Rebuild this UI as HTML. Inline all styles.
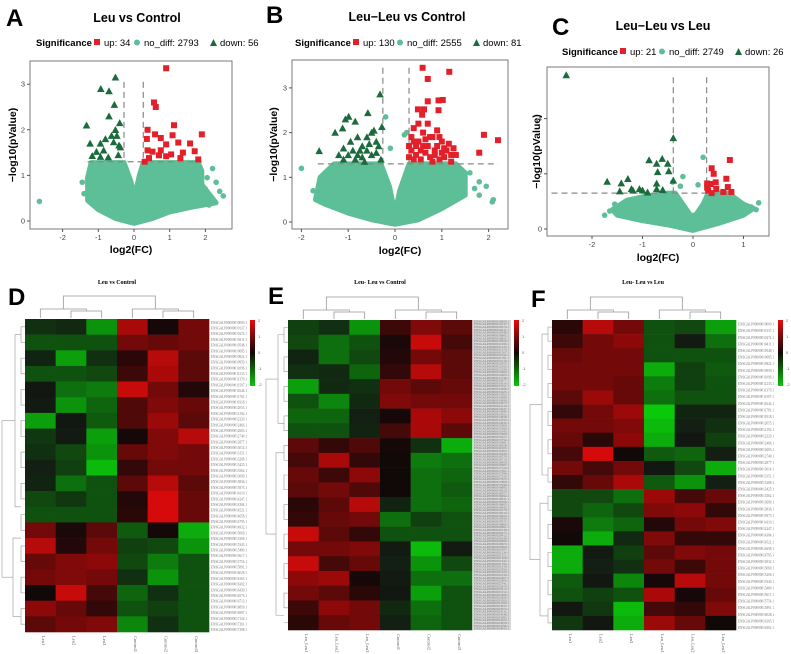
<!DOCTYPE html>
<html><head><meta charset="utf-8"><style>
html,body{margin:0;padding:0;background:#fff;}
svg{display:block;font-family:"Liberation Sans",sans-serif;}
</style></head><body>
<svg id="fig" width="791" height="654" viewBox="0 0 791 654"></svg>
<script>
// ---------- Volcano data (log2FC, -log10 p) ----------
const aUpX=[0.9,0.56,0.61,0.38,0.36,0.59,0.75,1.12,1.08,0.9,1.24,1.37,1.57,1.7,1.9,1.3,1.04,0.7,0.52,0.38,0.3,0.42,0.9,0.75,1.8];
const aUpY=[3.35,2.6,2.5,2.0,1.8,1.9,1.82,2.1,1.88,1.68,1.72,1.5,1.7,1.53,1.9,1.38,1.46,1.44,1.52,1.55,1.3,1.38,1.42,1.55,1.35];
const aDnX=[-1.33,-0.93,-0.7,-0.52,-0.55,-0.7,-1.23,-0.94,-0.8,-0.52,-0.4,-0.57,-0.42,-0.94,-0.72,-0.44,-1.17,-0.63,-0.48,-0.38,-1.05,-0.85];
const aDnY=[2.1,2.9,2.85,3.15,2.55,2.3,1.7,1.7,1.8,2.0,2.15,1.73,1.66,1.41,1.4,1.45,1.43,1.87,1.87,1.62,1.52,1.55];
const aCloudX=[-1.3,-1.3,-1.2,-0.28,-0.1,0.02,0.15,0.26,1.8,1.9,1.9,2.3,1.6,1.0,0.5,0,-0.5,-1.0,-1.3];
const aCloudY=[0.6,0.95,1.28,1.28,0.9,0.55,1.0,1.28,1.28,1.1,0.8,0.4,0.3,0.2,0.05,-0.05,0.05,0.25,0.45];
const aOutX=[-2.65,2.2,2.3,2.4,2.5,2.0,1.9,-1.3,-1.4,2.1,-1.2,-1.45,1.7,2.05];
const aOutY=[0.43,1.15,0.85,0.65,0.55,0.7,0.45,0.9,0.6,0.35,0.75,0.85,0.55,0.95];

const bUpX=[0.59,1.16,0.7,0.93,1.02,0.7,0.93,0.62,0.49,0.58,1.9,2.2,1.8,0.35,0.4,0.5,0.6,0.7,0.8,0.9,1.0,1.1,1.2,0.45,0.55,0.65,0.75,0.85,0.95,1.05,0.35,0.4,0.6,0.8,1.15,0.5,0.7,0.3,0.45,0.75,0.9,1.0,1.2,0.55,0.65,0.85,0.95,1.05,0.4,0.3,1.3,1.25];
const bUpY=[3.45,3.36,3.2,2.72,2.73,2.7,2.5,2.52,2.52,2.4,1.95,1.83,1.55,1.9,2.1,1.8,2.0,1.7,1.9,2.05,1.8,1.6,1.5,1.5,1.4,1.55,1.45,1.6,1.4,1.45,1.6,1.4,1.7,1.35,1.75,2.2,2.2,1.7,1.7,1.9,1.7,1.55,1.35,1.6,1.85,1.5,1.9,1.65,1.8,1.45,1.5,1.65];
const bDnX=[-0.32,-0.58,-0.99,-1.06,-0.85,-1.12,-1.28,-1.62,-0.28,-0.5,-0.6,-0.4,-0.7,-0.8,-0.9,-1.0,-1.1,-0.5,-0.6,-0.4,-0.7,-0.8,-0.35,-0.45,-1.1,-0.95,-0.55,-0.3,-0.65,-0.85,-1.2,-0.75];
const bDnY=[2.86,2.44,2.36,2.3,2.25,2.1,2.0,1.59,2.13,2.0,1.9,1.8,1.7,1.9,1.6,1.5,1.4,1.5,1.6,1.55,1.45,1.5,1.7,2.05,1.65,1.8,1.75,1.4,1.35,1.4,1.5,1.6];
const bCloudX=[-1.7,-1.6,-1.3,-0.3,-0.12,0,0.1,0.3,1.3,1.5,1.5,1.0,0.5,0,-0.5,-1.0,-1.5];
const bCloudY=[0.5,1.0,1.3,1.3,0.8,0.2,0.7,1.3,1.3,1.1,0.6,0.3,0.05,-0.05,0.05,0.2,0.4];
const bOutX=[-2,-1.6,-1.65,-1.5,1.8,1.95,2.1,1.8,1.6,-0.2,-0.1,0.2,0.25,-1.4,2.08,-1.3,-1.75,1.7];
const bOutY=[1.2,0.95,0.6,0.5,0.9,0.8,0.5,0.6,1.1,2.35,1.65,1.95,2.0,0.45,0.45,0.9,0.7,0.75];

const cUpX=[0.73,0.37,0.41,0.28,0.35,0.45,0.66,0.69,0.6,0.76,0.3,0.37,0.46,0.28];
const cUpY=[2.5,2.2,2.0,1.65,1.63,1.69,1.82,1.52,1.34,1.34,1.4,1.3,1.45,1.5];
const cDnX=[-2.51,-0.39,-0.87,-0.61,-0.72,-0.5,-0.48,-0.7,-0.39,-1.7,-1.29,-1.42,-0.72,-1.45,-1.22,-1.06,-0.9,-0.6,-0.72,-1.19,-1.0];
const cDnY=[5.58,3.3,2.5,2.55,2.37,2.37,2.1,2.07,1.76,1.72,1.82,1.66,1.65,1.37,1.45,1.45,1.33,1.42,1.45,1.4,1.4];
const cCloudX=[-1.6,-1.3,-0.9,-0.5,-0.35,-0.2,-0.05,0.05,0.2,0.3,0.7,1.0,1.2,1.0,0.5,0,-0.5,-1.0,-1.5];
const cCloudY=[0.7,1.05,1.2,1.3,1.3,0.9,0.5,0.5,0.9,1.3,1.3,0.9,0.75,0.5,0.2,-0.05,0.15,0.3,0.5];
const cOutX=[-1.75,-1.65,-1.55,1.15,1.3,1.25,0.2,-0.2,-0.4,0.1,-0.25,1.0];
const cOutY=[0.5,0.65,0.9,0.8,0.95,0.7,2.6,1.9,1.7,1.6,1.55,0.6];

const aXTicks=[-2,-1,0,1,2], aYTicks=[0,1,2,3];
const bXTicks=[-2,-1,0,1,2], bYTicks=[0,1,2,3];
const cXTicks=[-2,-1,0,1], cYTicks=[0,2,4];

// ---------- Heatmap data (z-scores) ----------
const dVals=[[-0.6,-0.5,-1.6,1.6,0.2,1.2],[-1,-1,-1,1.2,1.1,1.2],[-0.4,-1.7,-0.6,0.5,1.7,1],[-1,-1,-0.9,0.7,1.6,1],[-0.1,-1.3,-1.4,1.8,1.2,0.4],[-0.2,-1.6,-1.2,0.9,1.3,1.1],[-1.7,-0.1,-1.1,0.9,1.5,1],[-0.7,-0.2,-1.7,0.2,1.3,1.7],[-0.6,-0.9,-1.6,1.1,1.3,1.2],[-0.3,-0.8,-1.9,0.6,1.2,1.2],[-0.4,-1.3,-1,1,1.7,1],[-0.9,-0.7,-1,0.4,1.9,1.1],[-1,-1,-1,0.5,1.9,1.1],[1.2,0.3,1,-1.1,0.2,-1.8],[1.7,0.4,1.2,-0.8,-0.9,-1.6],[1.1,1.3,1.4,-0.9,-1.4,-1],[1.2,1.3,1.2,-0.6,-1.6,-1],[0.1,1.8,0.8,-1.2,-0.6,-1],[1.4,1.1,0.6,-1,-0.8,-1],[1,1.2,1.3,-1.5,-0.6,-1]];
const eVals=[[-0.8,-0.6,-1.6,0.7,1.3,1],[-0.9,-1.3,-1,0.3,1.8,0.8],[-0.4,-1.3,-0.9,0.4,1.2,1],[-0.6,-0.5,-1.2,0.6,1.7,1],[-1.7,-0.5,-0.6,1.2,1,1.1],[-1,-1.5,-0.5,1.3,1.2,1.2],[-1.2,-1.2,-0.3,0.2,1.6,1.4],[-1,-1,-0.4,0.8,1.6,1],[1,0.6,0.9,0.2,-0.6,-1.8],[0.8,1.6,0.6,0.1,-1.4,-1.3],[1.1,0.7,1.4,0.1,-1.3,-1.2],[1,1.2,0.9,0.1,-1.3,-1.1],[0.5,1,1.7,-0.4,-1.3,-1.2],[0.6,1.1,1.2,-1.3,-0.8,-1],[1.8,1,0.6,-1,-1,-1],[1.2,1.2,1.3,-0.2,-1.9,-0.2],[1.8,0.8,1.1,-0.3,-1.6,-0.9],[1.4,1.5,0.2,-0.2,-1.3,-1.3],[1.2,1,0.5,-0.1,-1.7,-1],[0.7,1.4,1.2,-0.5,-1.3,-1],[0.5,1.1,1.2,-0.3,-1.2,-1]];
const fVals=[[0.5,1.7,1.2,-1,-0.9,-1.7],[0.7,1.2,1.4,-1,-0.2,-1.3],[1.1,1.2,1.2,-1,-1,-1],[1.2,1.2,1.2,-1.8,-0.8,-1.1],[1.2,1.2,1.1,-1.4,-0.8,-1],[1,1.5,1.1,-1.3,-1,-1],[0.6,1.2,1.5,-2,-0.4,-0.4],[1.2,1.2,1.3,-1.9,-0.3,-0.6],[1.1,0.5,1.4,-1.8,-0.1,-0.8],[0.8,1.9,0.1,-1.1,-1.2,-0.3],[1.2,0.8,1.2,-0.1,-0.9,-1.8],[0.6,1.1,1.6,-1.1,-1.6,-0.3],[-0.9,-0.9,-1.3,1.5,0.8,1.1],[-0.9,-1.2,-0.9,1.3,1.4,0.6],[0.3,-1.4,-1.2,0.4,1.2,1.3],[0.1,-1.8,-0.5,1.3,0.6,0.6],[-1.8,-0.2,-0.8,1,1.3,1.2],[-1.8,-0.3,-0.6,1.2,0.7,1.2],[-1.1,-0.1,-1.5,0.2,1.7,1.2],[-1,-0.8,-1,1.6,0.2,1.1],[-0.1,-0.7,-1.9,0.8,0.6,1.3],[-0.7,-0.1,-1.8,1.5,1.1,0.1]];
const dCols=["Leu1","Leu2","Leu3","Control1","Control2","Control3"];
const eCols=["Leu_Leu1","Leu_Leu2","Leu_Leu3","Control1","Control2","Control3"];
const fCols=["Leu1","Leu2","Leu3","Leu_Leu1","Leu_Leu2","Leu_Leu3"];
const barTicks=["2","1","0","-1","-2"];

const NS="http://www.w3.org/2000/svg";
const svg=document.getElementById('fig');
function mk(tag,attrs,parent){const e=document.createElementNS(NS,tag);for(const k in attrs)e.setAttribute(k,attrs[k]);(parent||svg).appendChild(e);return e;}
function txt(s,attrs,parent){const e=mk('text',attrs,parent);e.textContent=s;return e;}

const RED="#e3202a",MINT="#5dbf97",DKG="#1c6b3c";

function volcano(p){
  const g=mk('g',{});
  
  
  const sx=v=>p.x0+v*p.kx, sy=v=>p.y0-v*p.ky;
  const lt=txt(p.letter,{x:p.lx,y:p.ly,'font-size':24,'font-weight':'bold'},g);
  
  const tt=txt(p.title,{x:p.tx,y:p.ty,'font-size':12.5,'font-weight':'bold','text-anchor':'middle'},g);
  
  const lg=mk('g',{},g);
  
  let x=p.legX;const ly=p.legY;
  txt('Significance',{x:x,y:ly,'font-size':9.5,'font-weight':'bold'},lg);x+=58;
  mk('rect',{x:x,y:ly-7,width:6,height:6,fill:RED},lg);x+=10;
  txt('up: '+p.nUp,{x:x,y:ly,'font-size':9.5},lg);x+=p.w1;
  mk('circle',{cx:x+3,cy:ly-3.5,r:3,fill:MINT},lg);x+=10;
  txt('no_diff: '+p.nNo,{x:x,y:ly,'font-size':9.5},lg);x+=p.w2;
  mk('path',{d:`M${x} ${ly} L${x+7} ${ly} L${x+3.5} ${ly-7}Z`,fill:DKG},lg);x+=10;
  txt('down: '+p.nDn,{x:x,y:ly,'font-size':9.5},lg);
  const fr=mk('rect',{x:p.bx,y:p.by,width:p.bw,height:p.bh,fill:'#fff',stroke:'#7a7a7a','stroke-width':1},g);
  
  const clip=mk('clipPath',{id:'clip'+p.letter},g);
  mk('rect',{x:p.bx,y:p.by,width:p.bw,height:p.bh},clip);
  const inner=mk('g',{'clip-path':`url(#clip${p.letter})`},g);
  const cg=mk('g',{},inner);
  
  const pts=p.cx.map((v,i)=>sx(v)+','+sy(p.cy[i])).join(' ');
  mk('polygon',{points:pts,fill:MINT,stroke:MINT,'stroke-width':5,'stroke-linejoin':'round'},cg);
  p.ox.forEach((v,i)=>mk('circle',{cx:sx(v),cy:sy(p.oy[i]),r:2.8,fill:MINT},cg));
  mk('line',{x1:sx(p.hx1),x2:sx(p.hx2),y1:sy(p.ht),y2:sy(p.ht),stroke:'#888','stroke-dasharray':'6,4','stroke-width':1.2},inner);
  p.vt.forEach(v=>mk('line',{x1:sx(v),x2:sx(v),y1:sy(p.vTop),y2:sy(p.ht),stroke:'#888','stroke-dasharray':'6,4','stroke-width':1.2},inner));
  const ug=mk('g',{},inner);
  
  p.ux.forEach((v,i)=>mk('rect',{x:sx(v)-3,y:sy(p.uy[i])-3,width:6,height:6,fill:RED},ug));
  const dg=mk('g',{},inner);
  
  p.dx.forEach((v,i)=>{const X=sx(v),Y=sy(p.dy[i]);mk('path',{d:`M${X-3.8} ${Y+3.2} L${X+3.8} ${Y+3.2} L${X} ${Y-3.8}Z`,fill:DKG},dg);});
  const xa=mk('g',{},g);
  
  p.xt.forEach(v=>{mk('line',{x1:sx(v),x2:sx(v),y1:p.by+p.bh,y2:p.by+p.bh+3,stroke:'#555'},xa);
    txt(String(v),{x:sx(v),y:p.by+p.bh+11,'font-size':7.5,fill:'#444','text-anchor':'middle'},xa);});
  const ya=mk('g',{},g);
  
  p.yt.forEach(v=>{mk('line',{x1:p.bx-3,x2:p.bx,y1:sy(v),y2:sy(v),stroke:'#555'},ya);
    txt(String(v),{x:p.bx-5,y:sy(v)+2.5,'font-size':7.5,fill:'#444','text-anchor':'end'},ya);});
  const xl=txt('log2(FC)',{x:p.bx+p.bw/2,y:p.xly,'font-size':10.5,'font-weight':'bold','text-anchor':'middle'},g);
  
  const yx=p.ylx, yy=p.by+p.bh/2;
  const yl=txt('\u2212log10(pValue)',{x:yx,y:yy,'font-size':10.5,'font-weight':'bold','text-anchor':'middle',transform:`rotate(-90 ${yx} ${yy})`},g);
  
}

volcano({name:'volcano-leu-vs-control',letter:'A',lx:6,ly:26,title:'Leu vs Control',tx:137,ty:22,legX:36,legY:46,nUp:34,nNo:2793,nDn:56,w1:30,w2:66,
 bx:30,by:61,bw:202,bh:168,x0:134,kx:35.7,y0:221,ky:45.6,ux:aUpX,uy:aUpY,dx:aDnX,dy:aDnY,cx:aCloudX,cy:aCloudY,ox:aOutX,oy:aOutY,
 ht:1.3,hx1:-1.3,hx2:1.9,vt:[-0.28,0.26],vTop:3.05,xt:aXTicks,yt:aYTicks,xly:253,ylx:16});
volcano({name:'volcano-leuleu-vs-control',letter:'B',lx:266,ly:23,title:'Leu\u2212Leu vs Control',tx:407,ty:21,legX:295,legY:46,nUp:130,nNo:2555,nDn:81,w1:34,w2:66,
 bx:292,by:60,bw:216,bh:169,x0:395,kx:46.8,y0:222,ky:44.7,ux:bUpX,uy:bUpY,dx:bDnX,dy:bDnY,cx:bCloudX,cy:bCloudY,ox:bOutX,oy:bOutY,
 ht:1.3,hx1:-1.65,hx2:2.2,vt:[-0.26,0.3],vTop:3.45,xt:bXTicks,yt:bYTicks,xly:254,ylx:277});
volcano({name:'volcano-leuleu-vs-leu',letter:'C',lx:552,ly:35,title:'Leu\u2212Leu vs Leu',tx:663,ty:30,legX:562,legY:55,nUp:21,nNo:2749,nDn:26,w1:29,w2:66,
 bx:547,by:67,bw:222,bh:169,x0:693,kx:50.5,y0:229,ky:27.6,ux:cUpX,uy:cUpY,dx:cDnX,dy:cDnY,cx:cCloudX,cy:cCloudY,ox:cOutX,oy:cOutY,
 ht:1.3,hx1:-3,hx2:0.7,vt:[-0.39,0.27],vTop:5.5,xt:cXTicks,yt:cYTicks,xly:261,ylx:540});

// ---------- Heatmaps ----------
function col(v){const t=Math.max(-2,Math.min(2,v))/2;
  if(t>=0){const a=Math.pow(t,1.5);return `rgb(${Math.round(15+215*a)},${Math.round(8*(1-a)+10*a)},${Math.round(8*(1-a)+10*a)})`;}
  const a=Math.pow(-t,1.6);return `rgb(${Math.round(18*(1-a)+10*a)},${Math.round(22+178*a)},${Math.round(18*(1-a)+10*a)})`;}

function heatmap(p){
  const g=mk('g',{});
  
  
  const lt=txt(p.letter,{x:p.lx,y:p.ly,'font-size':24,'font-weight':'bold'},g);
  
  const tt=txt(p.title,{x:p.tx,y:284,'font-size':6,'font-weight':'bold','text-anchor':'middle','font-family':'Liberation Serif'},g);
  
  const nr=p.vals.length,nc=6,cw=(p.x2-p.x1)/nc,rh=(p.y2-p.y1)/nr;
  const cells=mk('g',{},g);
  
  p.vals.forEach((row,r)=>row.forEach((v,c)=>mk('rect',{x:p.x1+c*cw,y:p.y1+r*rh,width:cw+0.3,height:rh+0.3,fill:col(v)},cells)));
  const dg=mk('g',{stroke:'#999','stroke-width':0.8,fill:'none'},g);
  
  const cx=i=>p.x1+(i+0.5)*cw, b=p.y1-1;
  mk('path',{d:`M${cx(1)} ${b}V${b-7}H${cx(2)}V${b}`},dg);
  mk('path',{d:`M${cx(4)} ${b}V${b-7}H${cx(5)}V${b}`},dg);
  const m1=(cx(1)+cx(2))/2,m2=(cx(4)+cx(5))/2;
  mk('path',{d:`M${cx(0)} ${b}V${b-9}H${m1}V${b-7}`},dg);
  mk('path',{d:`M${cx(3)} ${b}V${b-9}H${m2}V${b-7}`},dg);
  const n1=(cx(0)+m1)/2,n2=(cx(3)+m2)/2;
  mk('path',{d:`M${n1} ${b-9}V${b-22}H${n2}V${b-9}`},dg);
  const lg=mk('g',{stroke:'#999','stroke-width':0.6,fill:'none'},g);
  
  const ry=r=>p.y1+(r+0.5)*rh;
  for(let r=0;r<nr;r+=2){const r2=Math.min(r+1,nr-1);mk('path',{d:`M${p.x1} ${ry(r)}H${p.x1-4}V${ry(r2)}H${p.x1}`},lg);}
  const mid=p.split*rh+p.y1;
  mk('path',{d:`M${p.x1-4} ${p.y1+rh}H${p.x1-10}V${mid-rh}H${p.x1-4}`},lg);
  mk('path',{d:`M${p.x1-4} ${mid+rh}H${p.x1-12}V${p.y2-rh}H${p.x1-4}`},lg);
  mk('path',{d:`M${p.x1-10} ${(p.y1+mid)/2}H${p.dl}V${(mid+p.y2)/2}H${p.x1-12}`},lg);
  const rl=mk('g',{},g);
  
  const nl=p.nLabels,lh=(p.y2-p.y1)/nl;
  if(p.gray)mk('rect',{x:p.x2+1,y:p.y1,width:p.lw,height:p.y2-p.y1,fill:'#d8d8d8'},rl);
  for(let i=0;i<nl;i++){txt('ENSGALP000000'+(10000+i*137)+'.1',{x:p.x2+2,y:p.y1+(i+0.85)*lh,'font-size':Math.min(4.2,lh*0.95),fill:'#777','textLength':p.lw-3,'lengthAdjust':'spacingAndGlyphs','font-family':'Liberation Serif'},rl);}
  const cl=mk('g',{},g);
  
  p.cols.forEach((s,i)=>{const X=cx(i)+1.5,Y=p.y2+4;txt(s,{x:X,y:Y,'font-size':4.5,fill:'#555','font-family':'Liberation Serif',transform:`rotate(90 ${X} ${Y})`},cl);});
  const cb=mk('g',{},g);
  
  const gid='grad'+p.letter;
  const gr=mk('linearGradient',{id:gid,x1:0,y1:0,x2:0,y2:1},cb);
  mk('stop',{offset:'0','stop-color':col(2)},gr);mk('stop',{offset:'0.5','stop-color':col(0)},gr);mk('stop',{offset:'1','stop-color':col(-2)},gr);
  mk('rect',{x:p.bx,y:320,width:5,height:66,fill:`url(#${gid})`},cb);
  barTicks.forEach((s,i)=>txt(s,{x:p.bx+8,y:322+i*16,'font-size':4,fill:'#666'},cb));
}
heatmap({name:'heatmap-leu-vs-control',letter:'D',lx:8,ly:305,title:'Leu vs Control',tx:117,vals:dVals,cols:dCols,x1:25,x2:209,y1:319,y2:632,split:13,dl:2,nLabels:55,lw:39,gray:false,bx:250});
heatmap({name:'heatmap-leuleu-vs-control',letter:'E',lx:268,ly:304,title:'Leu- Leu vs Control',tx:380,vals:eVals,cols:eCols,x1:288,x2:472,y1:320,y2:630,split:8,dl:266,nLabels:110,lw:38,gray:true,bx:514});
heatmap({name:'heatmap-leuleu-vs-leu',letter:'F',lx:531,ly:307,title:'Leu- Leu vs Leu',tx:643,vals:fVals,cols:fCols,x1:552,x2:736,y1:320,y2:630,split:12,dl:530,nLabels:47,lw:39,gray:false,bx:778});
</script>
</body></html>
